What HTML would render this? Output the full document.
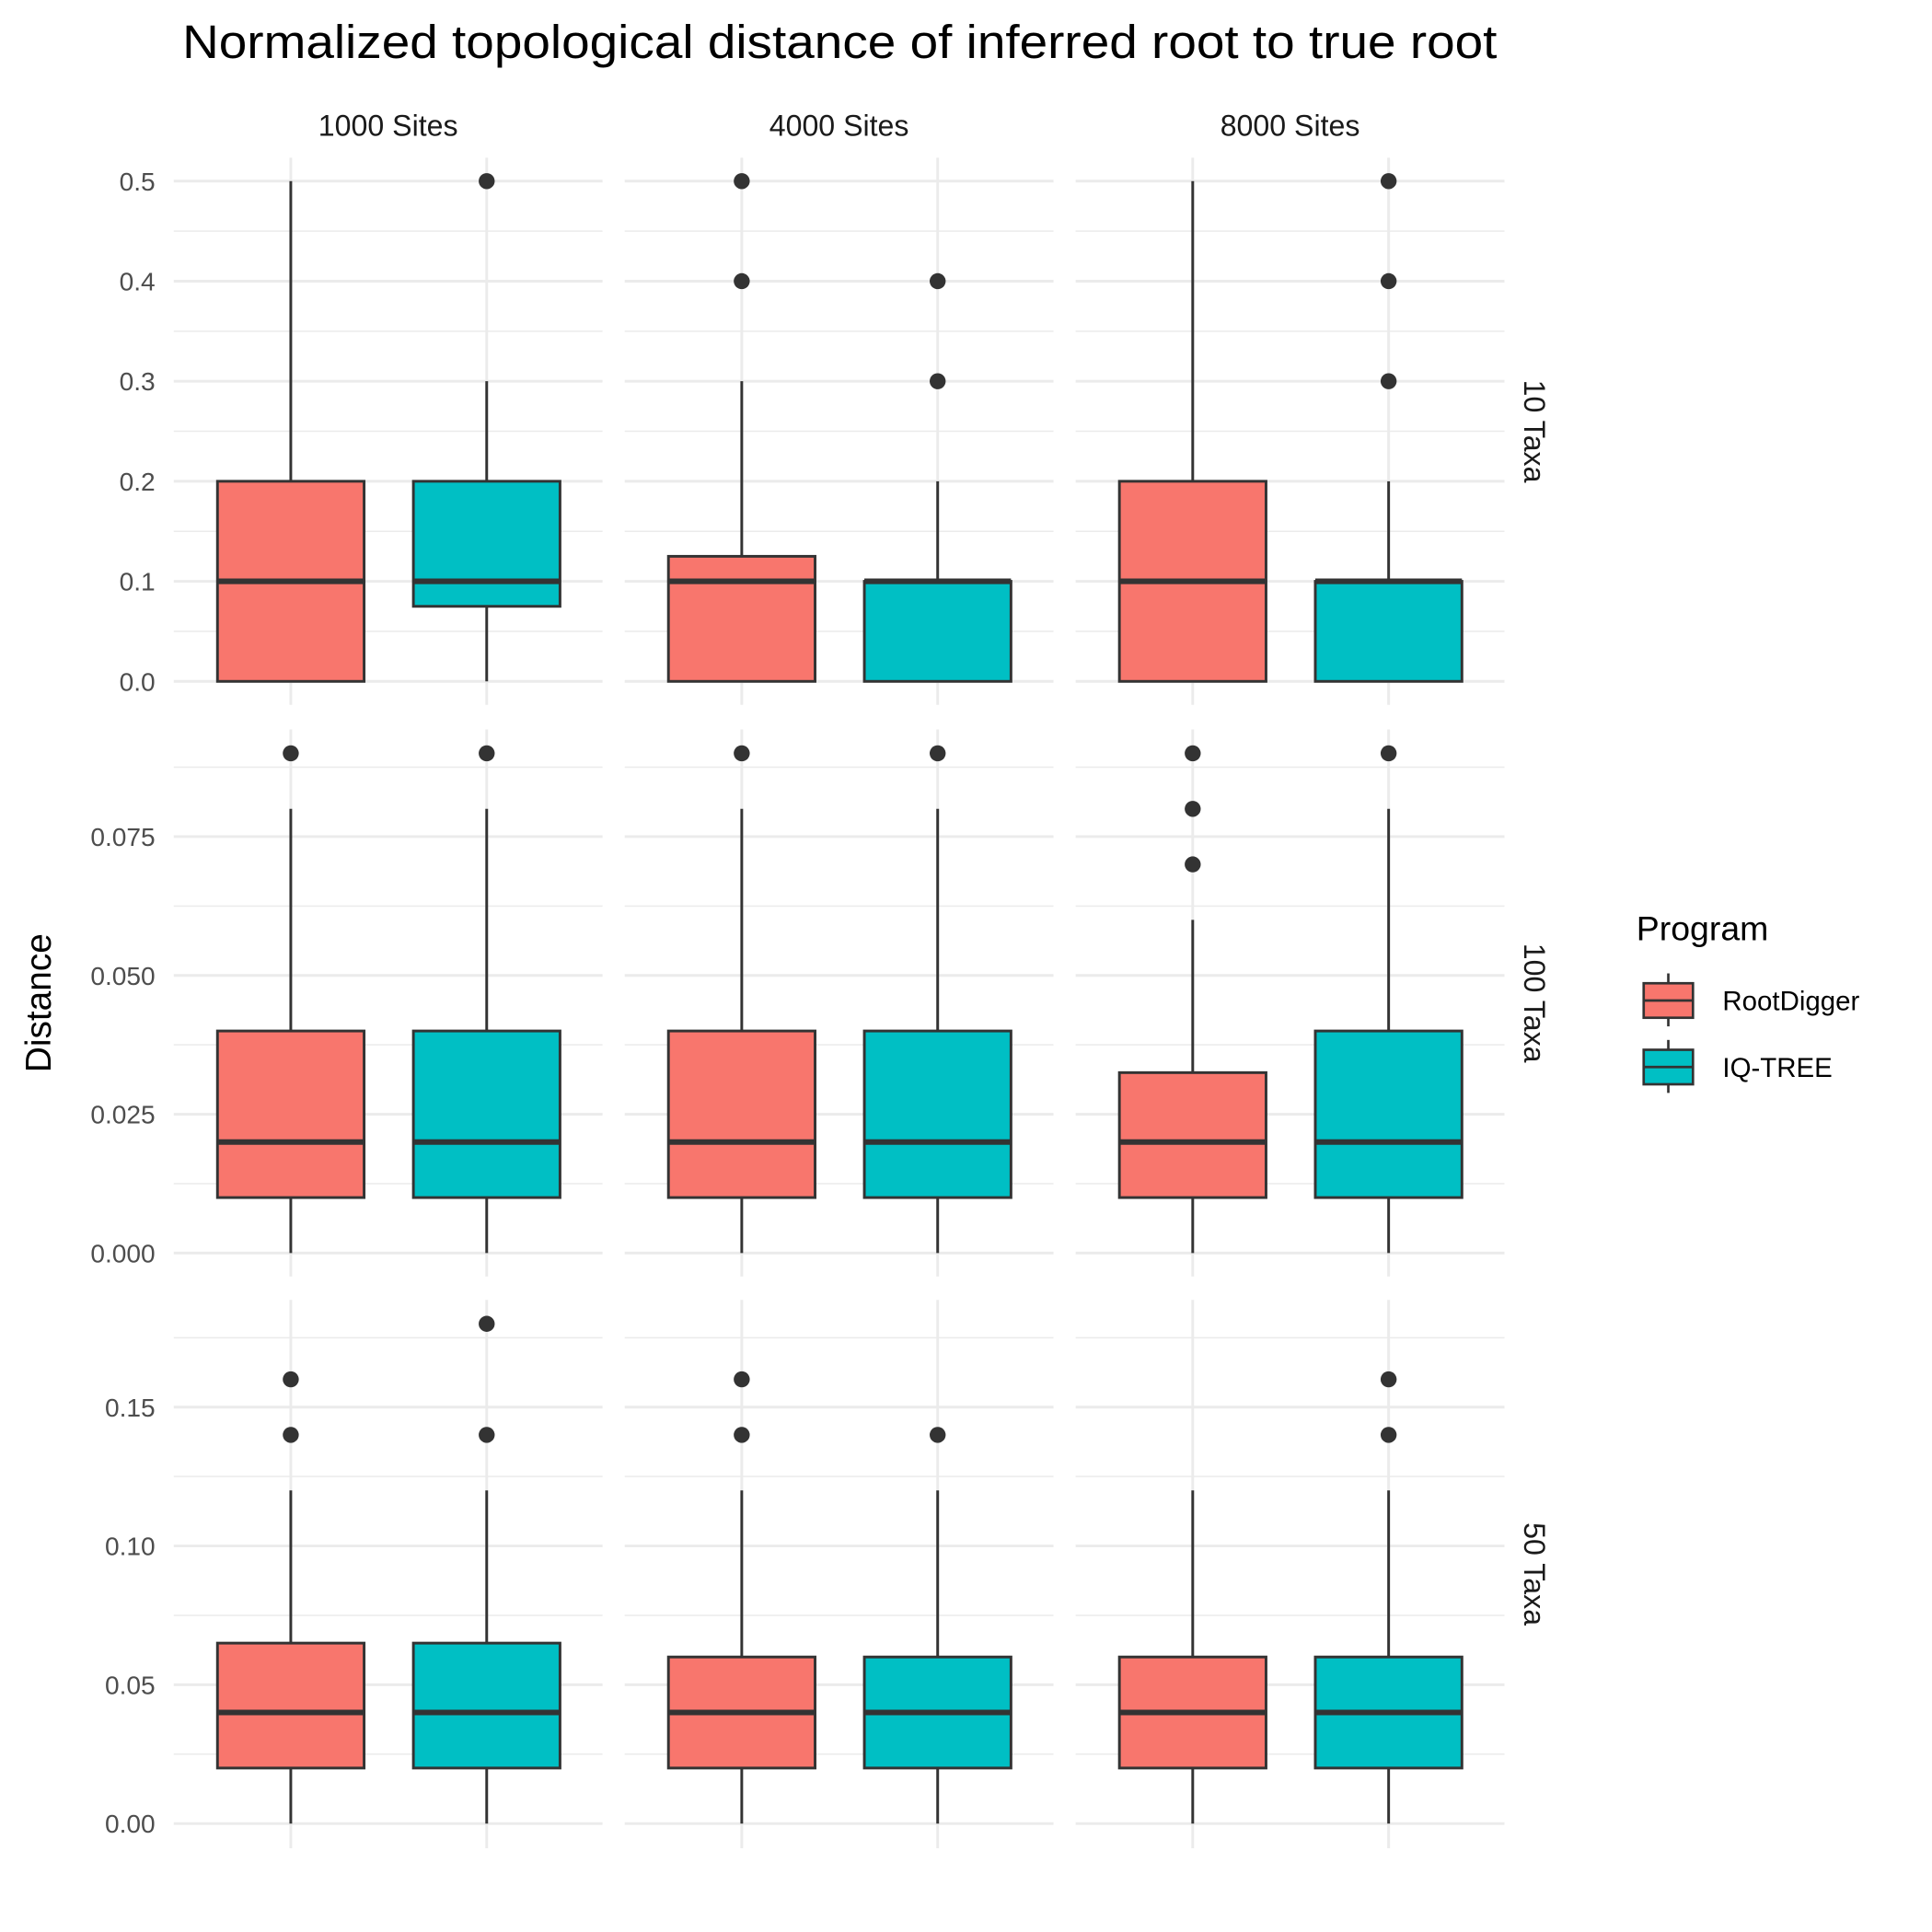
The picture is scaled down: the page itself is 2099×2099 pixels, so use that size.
<!DOCTYPE html>
<html><head><meta charset="utf-8"><style>
html,body{margin:0;padding:0;background:#fff}
svg{display:block;font-family:"Liberation Sans",Arial,sans-serif}
</style></head><body>
<svg id="chart" width="2099" height="2099" viewBox="0 0 1568 1568" xmlns="http://www.w3.org/2000/svg">
<rect width="1568" height="1568" fill="#fff"/>
<text x="148" y="47" font-size="38" textLength="1067" lengthAdjust="spacingAndGlyphs" fill="#000">Normalized topological distance of inferred root to true root</text>
<text transform="translate(41,814) rotate(-90)" font-size="29" text-anchor="middle" fill="#000">Distance</text>
<g id="panels"></g>
<g>
<text x="1328" y="763" font-size="28" fill="#000">Program</text>
<g>
<line x1="1354" y1="790" x2="1354" y2="833" stroke="#333" stroke-width="2"/>
<rect x="1334" y="798" width="40" height="28" fill="#F8766D" stroke="#333" stroke-width="2"/>
<line x1="1334" y1="812" x2="1374" y2="812" stroke="#333" stroke-width="2"/>
<text x="1398" y="820" font-size="22" fill="#000">RootDigger</text></g>
<g>
<line x1="1354" y1="844" x2="1354" y2="887" stroke="#333" stroke-width="2"/>
<rect x="1334" y="852" width="40" height="28" fill="#00BFC4" stroke="#333" stroke-width="2"/>
<line x1="1334" y1="866" x2="1374" y2="866" stroke="#333" stroke-width="2"/>
<text x="1398" y="874" font-size="22" fill="#000">IQ-TREE</text></g>
</g>
</svg>
<script>
const colLabels=["1000 Sites","4000 Sites","8000 Sites"];
const rowLabels=["10 Taxa","100 Taxa","50 Taxa"];
const programs=["RootDigger","IQ-TREE"];
const rowTicks=[[0,0.1,0.2,0.3,0.4,0.5],[0,0.025,0.05,0.075],[0,0.05,0.1,0.15]];
const rowTickLabels=[["0.0","0.1","0.2","0.3","0.4","0.5"],["0.000","0.025","0.050","0.075"],["0.00","0.05","0.10","0.15"]];
// stats [lower whisker, q1, median, q3, upper whisker], indexed [row][col][program]
const stats10=[[[0,0,0.1,0.2,0.5],[0,0.075,0.1,0.2,0.3]],[[0,0,0.1,0.125,0.3],[0,0,0.1,0.1,0.2]],[[0,0,0.1,0.2,0.5],[0,0,0.1,0.1,0.2]]];
const stats100=[[[0,0.01,0.02,0.04,0.08],[0,0.01,0.02,0.04,0.08]],[[0,0.01,0.02,0.04,0.08],[0,0.01,0.02,0.04,0.08]],[[0,0.01,0.02,0.0325,0.06],[0,0.01,0.02,0.04,0.08]]];
const stats50=[[[0,0.02,0.04,0.065,0.12],[0,0.02,0.04,0.065,0.12]],[[0,0.02,0.04,0.06,0.12],[0,0.02,0.04,0.06,0.12]],[[0,0.02,0.04,0.06,0.12],[0,0.02,0.04,0.06,0.12]]];
const out10=[[[],[0.5]],[[0.4,0.5],[0.3,0.4]],[[],[0.3,0.4,0.5]]];
const out100=[[[0.09],[0.09]],[[0.09],[0.09]],[[0.07,0.08,0.09],[0.09]]];
const out50=[[[0.14,0.16],[0.14,0.18]],[[0.14,0.16],[0.14]],[[],[0.14,0.16]]];
const allStats=[stats10,stats100,stats50], allOut=[out10,out100,out50];
const fills=["#F8766D","#00BFC4"];
const colX0=[141,507,873], panelW=348;
const rowZeroY=[553,1017,1480], rowScale=[812,4506.7,2253.3];
const rowTop=[128,592,1055], rowBot=[572,1036,1500];
const NS="http://www.w3.org/2000/svg";
const g=document.getElementById('panels');
function el(t,a,p){const e=document.createElementNS(NS,t);for(const k in a)e.setAttribute(k,a[k]);(p||g).appendChild(e);return e;}
function yS(r,v){return rowZeroY[r]-v*rowScale[r];}
function xS(c,p){return colX0[c]+95+p*159;}
for(let r=0;r<3;r++){
  const ticks=rowTicks[r];
  for(let c=0;c<3;c++){
    const pg=el('g',{});
    
    
    const step=ticks[1]-ticks[0];
    for(let i=0;i<ticks.length;i++){
      const y=yS(r,ticks[i]);
      el('line',{x1:colX0[c],x2:colX0[c]+panelW,y1:y,y2:y,stroke:'#ebebeb','stroke-width':2.2},pg);
      const ym=yS(r,ticks[i]+step/2);
      if(ym>rowTop[r]) el('line',{x1:colX0[c],x2:colX0[c]+panelW,y1:ym,y2:ym,stroke:'#ebebeb','stroke-width':1.1},pg);
    }
    for(let p=0;p<2;p++){
      const x=xS(c,p);
      el('line',{x1:x,x2:x,y1:rowTop[r],y2:rowBot[r],stroke:'#ebebeb','stroke-width':2.2},pg);
    }
    for(let p=0;p<2;p++){
      const s=allStats[r][c][p], x=xS(c,p), hw=59.5;
      const bg=el('g',{},pg);
      
      
      el('line',{x1:x,x2:x,y1:yS(r,s[0]),y2:yS(r,s[4]),stroke:'#333','stroke-width':2.2},bg);
      el('rect',{x:x-hw,y:yS(r,s[3]),width:2*hw,height:yS(r,s[1])-yS(r,s[3]),fill:fills[p],stroke:'#333','stroke-width':2.2},bg);
      el('line',{x1:x-hw,x2:x+hw,y1:yS(r,s[2]),y2:yS(r,s[2]),stroke:'#333','stroke-width':4.5},bg);
      for(const o of allOut[r][c][p]){
        const pt=el('circle',{cx:x,cy:yS(r,o),r:6.5,fill:'#333'},bg);
        
        
      }
    }
  }
  for(let i=0;i<ticks.length;i++){
    const t=el('text',{x:126,y:yS(r,ticks[i])+7.5,'font-size':21,'text-anchor':'end',fill:'#4d4d4d'});
    t.textContent=rowTickLabels[r][i];
    
    
  }
  const cy=(rowTop[r]+rowBot[r])/2;
  const st=el('text',{transform:'translate(1237,'+cy+') rotate(90)','font-size':24,'text-anchor':'middle',fill:'#1a1a1a'});
  st.textContent=rowLabels[r];
  
  
}
for(let c=0;c<3;c++){
  const t=el('text',{x:colX0[c]+panelW/2,y:110,'font-size':24,'text-anchor':'middle',fill:'#1a1a1a'});
  t.textContent=colLabels[c];
  
  
}
</script>
</body></html>
